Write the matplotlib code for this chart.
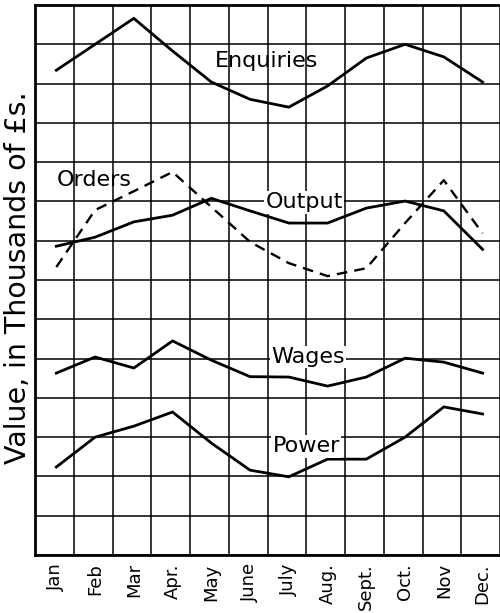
import numpy as np
import matplotlib.pyplot as plt

# Months and series values (in grid units)
months = ['Jan', 'Feb', 'Mar', 'Apr.', 'May', 'June', 'July', 'Aug.', 'Sept.', 'Oct.', 'Nov', 'Dec.']
enquiries = [12.34, 13.0, 13.66, 12.83, 12.04, 11.6, 11.4, 11.94, 12.65, 13.0, 12.68, 12.04]
orders = [7.33, 8.78, 9.26, 9.75, 8.86, 7.97, 7.43, 7.10, 7.30, 8.45, 9.54, 8.19]
output = [7.86, 8.09, 8.48, 8.65, 9.08, 8.76, 8.45, 8.45, 8.83, 9.01, 8.76, 7.78]
wages = [4.63, 5.04, 4.76, 5.45, 4.96, 4.54, 4.53, 4.30, 4.53, 5.01, 4.91, 4.63]
power = [2.24, 3.0, 3.28, 3.64, 2.85, 2.16, 1.99, 2.44, 2.44, 3.0, 3.77, 3.59]

x = np.arange(len(months)) + 0.55

fig = plt.figure(figsize=(5, 6.13), dpi=100)
ax = fig.add_axes([0.07, 0.0946, 0.93, 0.8972])

lw = 2.0
ax.plot(x, enquiries, color='black', lw=lw, solid_joinstyle='miter')
ax.plot(x, output, color='black', lw=lw, solid_joinstyle='miter')
ax.plot(x, wages, color='black', lw=lw, solid_joinstyle='miter')
ax.plot(x, power, color='black', lw=lw, solid_joinstyle='miter')
ax.plot(x, orders, color='black', lw=1.7, dashes=(4.5, 3))

ax.set_xlim(0, 12)
ax.set_ylim(0, 14)

# grid on integer lines
ax.set_xticks(np.arange(0, 13), minor=True)
ax.set_yticks(np.arange(0, 15), minor=True)
ax.set_yticks([])
ax.grid(which='minor', color='black', lw=1.1)
ax.tick_params(which='both', length=0)
ax.set_xticks(x)
ax.set_xticklabels(months, rotation=90, fontsize=13)
ax.tick_params(axis='x', pad=6)

for side in ['left', 'bottom', 'top']:
    ax.spines[side].set_linewidth(2.0)
ax.spines['right'].set_visible(False)

tkw = dict(fontsize=16, ha='center', va='center')
ax.text(5.97, 12.57, 'Enquiries', **tkw)
ax.text(1.54, 9.54, 'Orders', **tkw)
ax.text(6.95, 8.98, 'Output', bbox=dict(facecolor='white', edgecolor='none', pad=1), **tkw)
ax.text(7.05, 5.04, 'Wages', bbox=dict(facecolor='white', edgecolor='none', pad=1), **tkw)
ax.text(7.0, 2.77, 'Power', bbox=dict(facecolor='white', edgecolor='none', pad=1), **tkw)

fig.text(0.036, 1 - 278 / 613, 'Value, in Thousands of £s.', rotation=90,
         fontsize=20.5, ha='center', va='center')

fig.savefig('out.png', dpi=100)
